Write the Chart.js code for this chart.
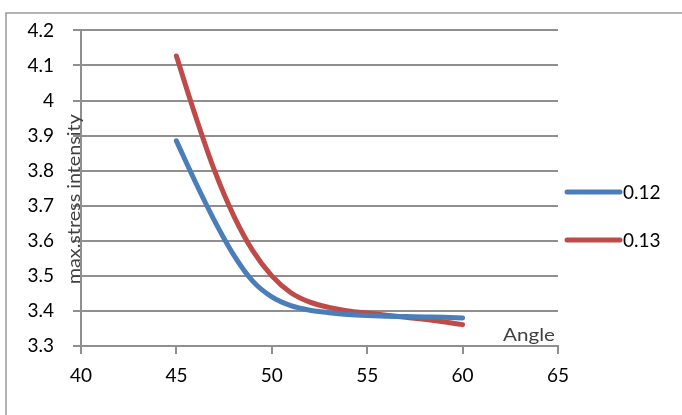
<!DOCTYPE html>
<html><head><meta charset="utf-8">
<script src="https://cdn.jsdelivr.net/npm/chart.js@4"></script>
<style>html,body{margin:0;padding:0;background:#fff;overflow:hidden}#wrap{position:relative;width:682px;height:415px}</style>
</head><body><div id="wrap"><canvas id="c" width="682" height="415"></canvas></div>
<script>
const angles = [45, 46, 47, 48, 49, 50, 51, 52, 53, 54, 55, 56, 57, 58, 59, 60];
const series012 = [3.885, 3.767, 3.657, 3.560, 3.485, 3.440, 3.415, 3.402, 3.395, 3.390, 3.387, 3.385, 3.384, 3.383, 3.382, 3.380];
const series013 = [4.127, 3.956, 3.800, 3.672, 3.572, 3.500, 3.452, 3.425, 3.410, 3.400, 3.394, 3.388, 3.382, 3.376, 3.369, 3.361];
const seriesNames = ['0.12', '0.13'];
const xTitle = 'Angle';
const yTitle = 'max.stress intensity';

const GRID = '#8f8f8f';
const FONT = 'Lato, "Liberation Sans", sans-serif';

function pts(xs, ys) { return xs.map((x, i) => ({ x: x, y: ys[i] })); }

const extras = {
  id: 'extras',
  beforeDraw(chart) {
    const ctx = chart.ctx;
    ctx.save();
    ctx.fillStyle = '#fff';
    ctx.fillRect(0, 0, chart.width, chart.height);
    ctx.strokeStyle = '#9a9a9a';
    ctx.lineWidth = 1.5;
    ctx.beginPath();
    ctx.moveTo(6, chart.height);
    ctx.lineTo(6, 13);
    ctx.lineTo(chart.width, 13);
    ctx.stroke();
    ctx.restore();
  },
  afterDraw(chart) {
    const ctx = chart.ctx;
    const ca = chart.chartArea;
    ctx.save();
    // y title
    ctx.fillStyle = '#404040';
    ctx.font = '17px ' + FONT;
    let w = ctx.measureText(yTitle).width;
    ctx.translate(ca.left - 1, (ca.top + ca.bottom) / 2 + 11);
    ctx.rotate(-Math.PI / 2);
    ctx.scale(170 / w, 1);
    ctx.textAlign = 'center';
    ctx.textBaseline = 'alphabetic';
    ctx.fillText(yTitle, 0, 0);
    ctx.restore();
    // x title
    ctx.save();
    ctx.fillStyle = '#404040';
    ctx.font = '18px ' + FONT;
    w = ctx.measureText(xTitle).width;
    ctx.translate(ca.right - 3, ca.bottom - 5);
    ctx.scale(52 / w, 1);
    ctx.textAlign = 'right';
    ctx.textBaseline = 'alphabetic';
    ctx.fillText(xTitle, 0, 0);
    ctx.restore();
    // legend
    ctx.save();
    const ys = [192, 240];
    chart.data.datasets.forEach((ds, i) => {
      ctx.strokeStyle = ds.borderColor;
      ctx.lineWidth = 5;
      ctx.lineCap = 'round';
      ctx.beginPath();
      ctx.moveTo(ca.right + 9, ys[i]);
      ctx.lineTo(ca.right + 62, ys[i]);
      ctx.stroke();
      ctx.fillStyle = '#000';
      ctx.font = '19px ' + FONT;
      ctx.textAlign = 'left';
      ctx.textBaseline = 'middle';
      ctx.fillText(ds.label, ca.right + 65, ys[i] + 1);
    });
    ctx.restore();
  }
};

new Chart(document.getElementById('c'), {
  type: 'line',
  data: {
    datasets: [
      { label: seriesNames[0], data: pts(angles, series012), borderColor: '#4a7ebb', borderWidth: 5,
        pointRadius: 0, cubicInterpolationMode: 'monotone', borderCapStyle: 'round', borderJoinStyle: 'round', fill: false },
      { label: seriesNames[1], data: pts(angles, series013), borderColor: '#be4b48', borderWidth: 5,
        pointRadius: 0, cubicInterpolationMode: 'monotone', borderCapStyle: 'round', borderJoinStyle: 'round', fill: false }
    ]
  },
  options: {
    responsive: false,
    animation: false,
    devicePixelRatio: 1,
    layout: { padding: { left: 0, top: 29, right: 124, bottom: 0 } },
    plugins: { legend: { display: false }, tooltip: { enabled: false } },
    scales: {
      x: {
        type: 'linear', min: 40, max: 65,
        ticks: { stepSize: 5, color: '#000', font: { family: FONT, size: 19 }, padding: 10, maxRotation: 0 },
        grid: { drawOnChartArea: false, drawTicks: true, tickLength: 8, color: GRID, lineWidth: 2 },
        border: { display: true, color: GRID, width: 2 },
        afterFit(s) { s.height = 69; }
      },
      y: {
        type: 'linear', min: 3.3, max: 4.2,
        ticks: { stepSize: 0.1, color: '#000', font: { family: FONT, size: 19 }, padding: 19,
          callback: v => String(parseFloat(Number(v).toFixed(1))) },
        grid: { drawTicks: true, tickLength: 8, color: GRID, lineWidth: 2 },
        border: { display: true, color: GRID, width: 2 },
        afterFit(s) { s.width = 81; }
      }
    }
  },
  plugins: [extras]
});
</script></body></html>
